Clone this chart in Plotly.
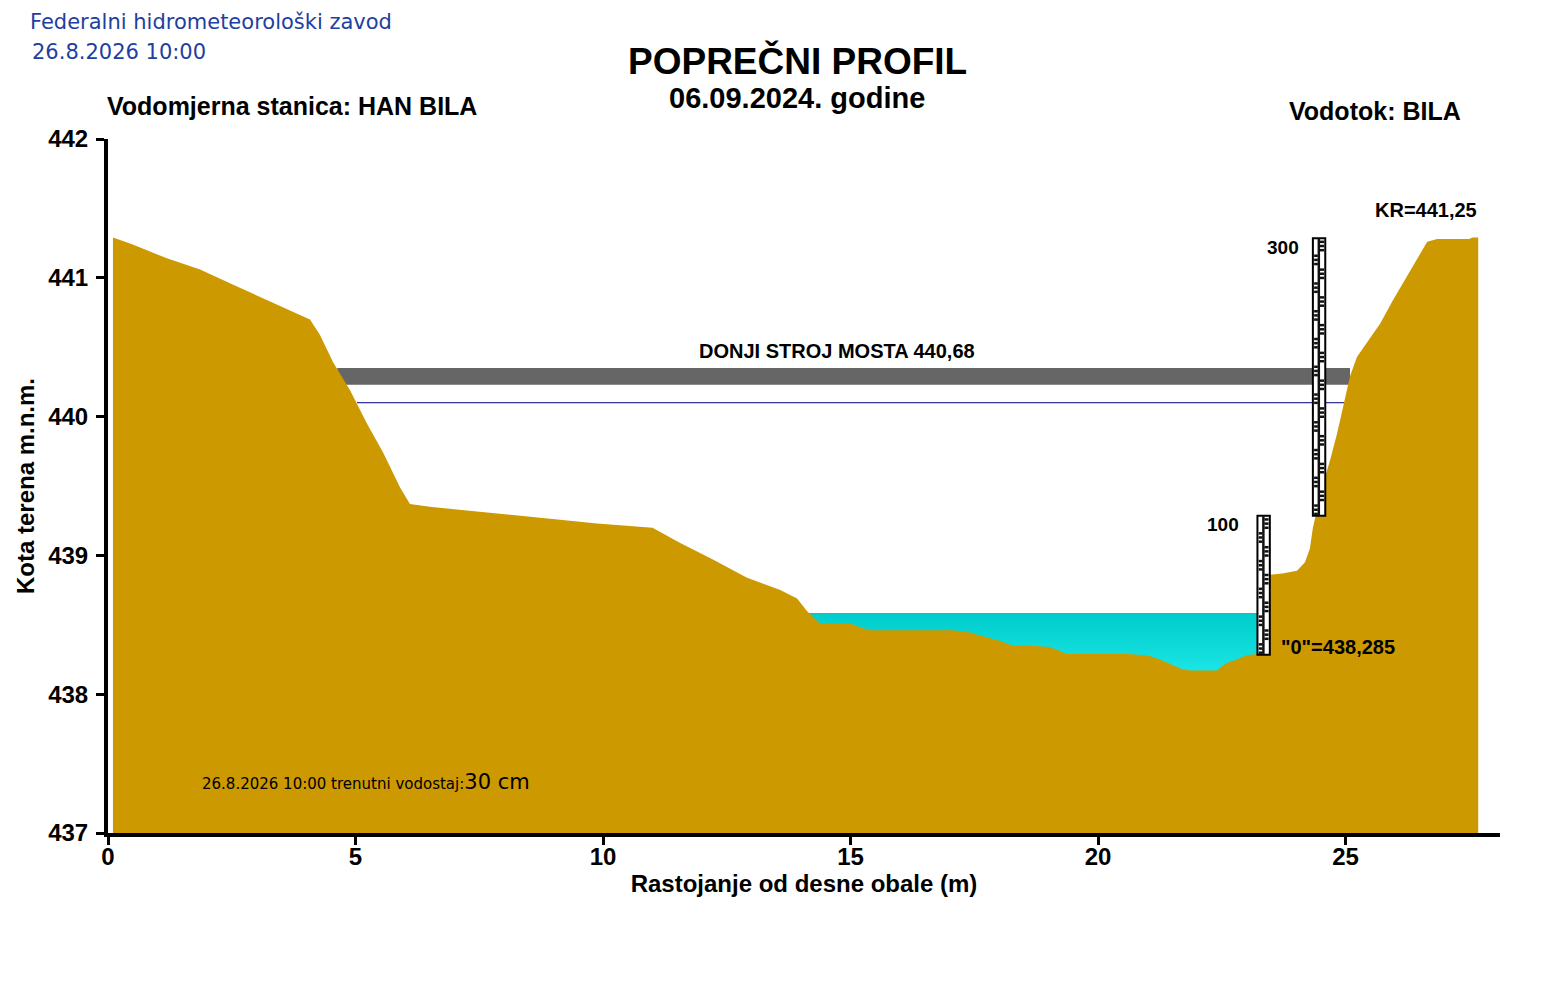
import plotly.graph_objects as go

# terrain profile (distance from right bank in m, elevation m.n.m.)
terrain_x = [0.10, 0.50, 1.19, 1.86, 2.53, 3.20, 3.74, 4.08, 4.28, 4.55, 4.89, 5.23, 5.56,
             5.90, 6.10, 6.50, 7.35, 8.20, 9.00, 9.88, 11.00, 11.56, 12.22, 12.90, 13.58,
             13.92, 14.12, 14.38, 15.00, 15.20, 15.40, 17.07, 17.35, 17.56, 17.88, 18.06,
             18.26, 18.57, 19.03, 19.23, 19.37, 20.18, 20.60, 20.95, 21.09, 21.25, 21.39,
             21.60, 21.70, 21.86, 22.40, 22.50, 22.60, 22.80, 23.00, 23.20, 23.30, 23.43,
             23.44, 23.72, 24.02, 24.18, 24.28, 24.34, 24.44, 24.55, 24.69, 24.83, 24.95,
             25.09, 25.23, 25.43, 25.70, 25.96, 26.24, 26.44, 26.65, 26.85, 27.50, 27.56,
             27.68]
terrain_y = [441.29, 441.24, 441.14, 441.06, 440.95, 440.84, 440.75, 440.70, 440.59, 440.39,
             440.19, 439.95, 439.74, 439.49, 439.37, 439.35, 439.32, 439.29, 439.26, 439.23,
             439.20, 439.09, 438.97, 438.84, 438.75, 438.69, 438.60, 438.51, 438.51, 438.48,
             438.46, 438.46, 438.45, 438.43, 438.40, 438.38, 438.35, 438.35, 438.34, 438.31,
             438.29, 438.29, 438.29, 438.28, 438.27, 438.25, 438.23, 438.20, 438.18, 438.17,
             438.17, 438.20, 438.225, 438.25, 438.28, 438.29, 438.31, 438.31, 438.86, 438.87,
             438.89, 438.95, 439.05, 439.20, 439.35, 439.52, 439.69, 439.88, 440.07, 440.29,
             440.43, 440.53, 440.67, 440.84, 441.01, 441.13, 441.26, 441.28, 441.28, 441.29,
             441.29]

gauge_zero = 438.285          # "0" of the staff gauge
water_level_cm = 30           # current stage
water_x = [14.10, 23.45]
bridge_x = [4.63, 25.09]
bridge_y = [440.23, 440.35]
line_x = [5.03, 25.00]
line_y = 440.10
# staff gauge sections: x from, x to, cm from, cm to
gauges = [(23.22, 23.47, 0, 100), (24.34, 24.59, 100, 300)]

x_ticks = [0, 5, 10, 15, 20, 25]
y_ticks = [437, 438, 439, 440, 441, 442]

terrain_color = "#CC9900"
water_level = gauge_zero + water_level_cm / 100

fig = go.Figure()

fig.add_trace(go.Scatter(
    x=water_x, y=[water_level, water_level], mode="lines", line=dict(width=0),
    fill="tozeroy",
    fillgradient=dict(type="vertical", start=min(terrain_y), stop=water_level,
                      colorscale=[[0, "#1AE4E4"], [1, "#00CCCC"]]),
    hoverinfo="skip", showlegend=False,
))
fig.add_trace(go.Scatter(
    x=terrain_x, y=terrain_y, mode="lines", line=dict(width=0, color=terrain_color),
    fill="tozeroy", fillcolor=terrain_color, showlegend=False,
))

shapes = []
# bridge lower structure and reference line
shapes.append(dict(type="rect", xref="x", yref="y", x0=bridge_x[0], x1=bridge_x[1],
                   y0=bridge_y[0], y1=bridge_y[1], fillcolor="#666666", line_width=0,
                   layer="below"))
shapes.append(dict(type="line", xref="x", yref="y", x0=line_x[0], x1=line_x[1],
                   y0=line_y, y1=line_y, line=dict(color="#000080", width=1), layer="below"))

# staff gauges (E pattern)
for gx0, gx1, c0, c1 in gauges:
    w = gx1 - gx0
    shapes.append(dict(type="rect", xref="x", yref="y", x0=gx0, x1=gx1,
                       y0=gauge_zero + c0 / 100, y1=gauge_zero + c1 / 100,
                       fillcolor="white", line=dict(color="black", width=2)))
    shapes.append(dict(type="rect", xref="x", yref="y", x0=gx0 + 0.38 * w, x1=gx0 + 0.58 * w,
                       y0=gauge_zero + c0 / 100, y1=gauge_zero + c1 / 100,
                       fillcolor="#111111", line_width=0))
    for i, cm in enumerate(range(c0, c1, 10)):
        sx0, sx1 = (gx0 + 0.10 * w, gx0 + 0.40 * w) if i % 2 == 0 else (gx0 + 0.56 * w, gx0 + 0.90 * w)
        for k in (0.5, 3.5, 6.5):
            shapes.append(dict(type="rect", xref="x", yref="y", x0=sx0, x1=sx1,
                               y0=gauge_zero + (cm + k) / 100, y1=gauge_zero + (cm + k + 1.8) / 100,
                               fillcolor="#111111", line_width=0))

bold = dict(family="Liberation Sans, Arial", color="black", weight="bold")

annotations = [
    dict(text="Federalni hidrometeorološki zavod", x=28, y=22, font_size=21),
    dict(text="26.8.2026 10:00", x=30, y=52, font_size=21),
]
for a in annotations:
    a.update(xref="paper", yref="paper", xanchor="left", yanchor="middle", showarrow=False,
             font=dict(family="DejaVu Sans", size=a.pop("font_size"), color="#1E40A0"))
    a["x"] = (a["x"] - 108) / 1392
    a["y"] = (833 - a["y"]) / 694

def paper_text(text, px, py, size, anchor="center"):
    return dict(text=text, xref="paper", yref="paper", x=(px - 108) / 1392, y=(833 - py) / 694,
                xanchor=anchor, yanchor="middle", showarrow=False, font=dict(bold, size=size))

annotations += [
    paper_text("POPREČNI PROFIL", 797, 61, 37),
    paper_text("06.09.2024. godine", 797, 98, 29),
    paper_text("Vodomjerna stanica: HAN BILA", 105, 106, 25, "left"),
    paper_text("Vodotok: BILA", 1463, 111, 25, "right"),
]

def data_text(text, x, y, size, anchor="center"):
    return dict(text=text, xref="x", yref="y", x=x, y=y, xanchor=anchor, yanchor="middle",
                showarrow=False, font=dict(bold, size=size))

annotations += [
    data_text("DONJI STROJ MOSTA 440,68", 14.73, 440.47, 20),
    data_text("300", 24.10, 441.22, 19, "right"),
    data_text("100", 22.89, 439.22, 19, "right"),
    data_text('"0"=438,285', 23.66, 438.34, 20, "left"),
    data_text("KR=441,25", 26.63, 441.49, 20),
    dict(text="26.8.2026 10:00 trenutni vodostaj:<span style='font-size:21px'>%d cm</span>"
              % water_level_cm,
         xref="x", yref="y", x=1.86, y=437.37, xanchor="left", yanchor="middle",
         showarrow=False, font=dict(family="DejaVu Sans", size=15, color="black")),
]

axis_common = dict(showline=True, linewidth=4, linecolor="black", ticks="outside", ticklen=8,
                   tickwidth=3, tickcolor="black", showgrid=False, zeroline=False,
                   tickfont=dict(bold, size=24), title_font=dict(bold, size=24))

# the page adds an 8 px body margin, so margins are shifted to land the plot area in place
fig.update_layout(
    width=1550, height=1000,
    margin=dict(l=100, r=58, t=131, b=175),
    plot_bgcolor="white", paper_bgcolor="white",
    xaxis=dict(axis_common, range=[0, 28.12], tickvals=x_ticks, ticklabelstandoff=-9,
               title=dict(text="Rastojanje od desne obale (m)", standoff=0)),
    yaxis=dict(axis_common, range=[437, 442], tickvals=y_ticks, ticklabelstandoff=3,
               title=dict(text="Kota terena m.n.m.", standoff=8)),
    shapes=shapes, annotations=annotations,
    hovermode="closest",
)

fig.write_html("out.html")
